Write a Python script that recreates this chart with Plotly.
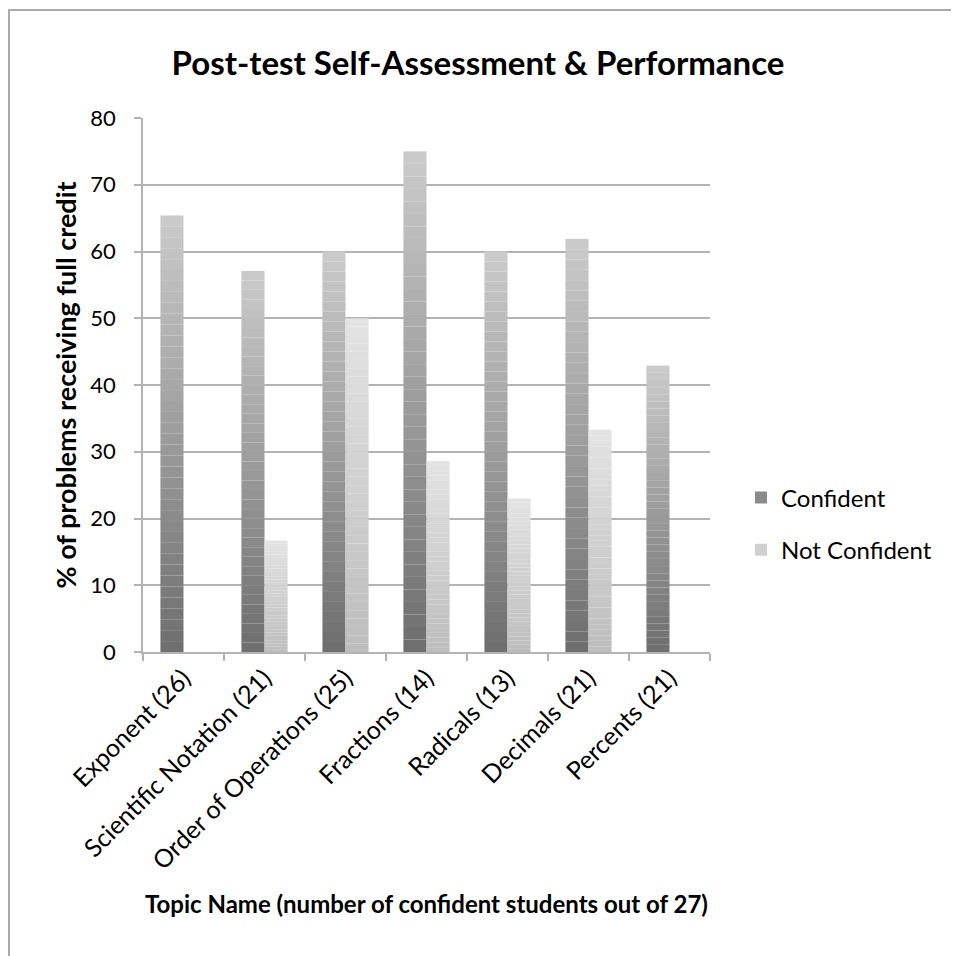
import plotly.graph_objects as go

categories = ["Exponent (26)", "Scientific Notation (21)", "Order of Operations (25)",
              "Fractions (14)", "Radicals (13)", "Decimals (21)", "Percents (21)"]
confident = [65.4, 57.1, 60.0, 75.0, 60.0, 61.9, 42.9]
not_confident = [0.0, 16.7, 50.0, 28.6, 23.0, 33.3, 0.0]
series_names = ["Confident", "Not Confident"]
y_ticks = [0, 10, 20, 30, 40, 50, 60, 70, 80]

# gradient end colours (bottom, top) per series
grad = {
    "Confident": ((0x6e, 0x6e, 0x6e), (0xcb, 0xcb, 0xcb)),
    "Not Confident": ((0xbd, 0xbd, 0xbd), (0xe3, 0xe3, 0xe3)),
}
legend_step = {"Confident": 0.3, "Not Confident": 0.5}

FONT = "Lato, 'Open Sans', sans-serif"
N = 40


def mix(c0, c1, t):
    return "rgb(%d,%d,%d)" % tuple(round(a + (b - a) * t) for a, b in zip(c0, c1))


fig = go.Figure()
for name, vals in zip(series_names, [confident, not_confident]):
    c0, c1 = grad[name]
    leg_k = int(N * legend_step[name])
    for k in range(N):
        t = (k + 0.5) / N
        fig.add_bar(
            x=categories,
            y=[v / N for v in vals],
            base=[v * k / N for v in vals],
            offsetgroup=name,
            legendgroup=name,
            name=name,
            showlegend=(k == leg_k),
            marker=dict(color=mix(c0, c1, t), line=dict(width=0)),
            hoverinfo="skip",
        )

# page has an 8px body margin; positions below are figure coordinates
OFF = 8
W, H = 959 - OFF, 956 - OFF
L, R, T, B = 143 - OFF, 710 - OFF, 118 - OFF, 652 - OFF


def px_x(p):
    return (p - OFF - L) / (R - L)


def px_y(p):
    return (B - (p - OFF)) / (B - T)


fig.update_layout(
    width=W, height=H,
    margin=dict(l=L, r=W - R, t=T, b=H - B, autoexpand=False),
    paper_bgcolor="white", plot_bgcolor="white",
    barmode="group", bargap=0.43, bargroupgap=0.0,
    font=dict(family=FONT, color="black", size=22),
    title=dict(text="<b>Post-test Self-Assessment &amp; Performance</b>",
               x=(478 - OFF) / W, xanchor="center", y=1 - (63 - OFF) / H, yanchor="middle",
               font=dict(family=FONT, size=33, color="black")),
    legend=dict(x=px_x(741), xanchor="left",
                y=px_y(524), yanchor="middle",
                font=dict(family=FONT, size=24, color="black"),
                traceorder="grouped", tracegroupgap=18,
                bgcolor="rgba(0,0,0,0)", itemwidth=30),
    showlegend=True,
)

fig.update_yaxes(
    range=[0, 80], tickvals=y_ticks, ticktext=[str(v) for v in y_ticks],
    showgrid=True, gridcolor="#b3b3b3", gridwidth=1.5,
    showline=True, linecolor="#b3b3b3", linewidth=1.5,
    ticks="outside", ticklen=7, tickcolor="#b3b3b3", tickwidth=1.5,
    ticklabelstandoff=14,
    zeroline=False, tickfont=dict(size=22),
    title=dict(text="<b>% of problems receiving full credit</b>",
               font=dict(size=27), standoff=6),
    automargin=False,
)
fig.update_xaxes(
    showline=True, linecolor="#b3b3b3", linewidth=1.5,
    ticks="outside", ticklen=7, tickcolor="#b3b3b3", tickwidth=1.5,
    tickson="boundaries", tickangle=-45, tickfont=dict(size=25),
    title=dict(text="<b>Topic Name (number of confident students out of 27)</b>",
               font=dict(size=24), standoff=22),
    automargin=False,
)

# outer chart frame (top and left visible in the reference)
fig.add_shape(type="rect", xref="paper", yref="paper",
              x0=px_x(9), x1=px_x(990), y0=px_y(990), y1=px_y(10),
              line=dict(color="#ababab", width=2), fillcolor="rgba(0,0,0,0)")

fig.write_html("out.html")
